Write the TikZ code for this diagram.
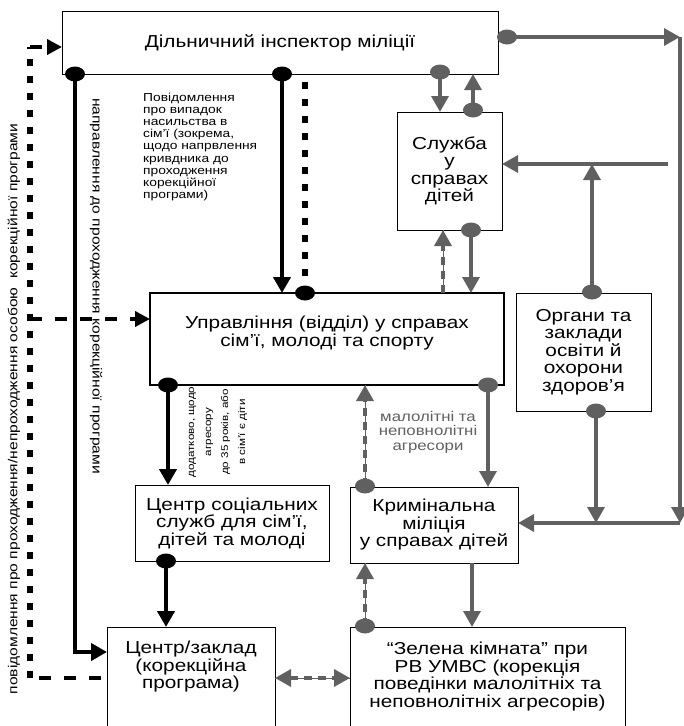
\documentclass[tikz,border=0pt]{standalone}
\usepackage{fontspec}
\setmainfont{Liberation Sans}[FakeStretch=1.2]
\usetikzlibrary{arrows.meta,positioning,shapes.geometric}
\definecolor{sirij}{HTML}{606060}
\tikzset{
    blok/.style={rectangle,draw,line width=0.7pt,inner sep=0pt,outer sep=0pt,anchor=north west},
    napys/.style={align=center,font=\fontsize{17.3}{17.5}\selectfont,inner sep=0pt},
    mitka/.style={align=left,font=\fontsize{11.5}{12.1}\selectfont,inner sep=0pt},
    chorna/.style={draw,line width=4pt,-{Triangle[width=17pt,length=16pt]}},
    sira/.style={draw=sirij,line width=3.5pt,-{Triangle[width=17pt,length=16pt]}},
    gshtrih/.style={sira,dash pattern=on 8pt off 6pt,preaction={draw=sirij,line width=0.8pt,solid,-}},
    bshtrihv/.style={draw,line width=6pt,dash pattern=on 7pt off 10pt},
    bshtrihh/.style={draw,line width=4.5pt,dash pattern=on 12pt off 13pt},
    bstrila/.style={-{Triangle[width=15pt,length=15pt]}},
    tochka/.style={ellipse,minimum width=20pt,minimum height=15pt,inner sep=0pt,fill},
    stochka/.style={tochka,fill=sirij},
}
\begin{document}
\begin{tikzpicture}[x=1pt,y=-1pt]
    \useasboundingbox (0,0) rectangle (684,726);

    \node [blok,napys,minimum width=436pt,minimum height=63pt] (insp) at (62,11) {Дільничний інспектор міліції};
    \node [blok,napys,minimum width=105pt,minimum height=118pt] (sluzhba) at (397,112) {Служба\\у\\справах\\дітей};
    \node [blok,line width=1.5pt,minimum width=354pt,minimum height=92pt] (uprav) at (150,293) {};
    \node [napys,below=23pt of uprav.north,anchor=north] (tuprav) {Управління (відділ) у справах\\сім’ї, молоді та спорту};
    \node [blok,napys,minimum width=135pt,minimum height=118pt] (organy) at (516,293) {Органи та\\заклади\\освіти й\\охорони\\здоров’я};
    \node [blok,napys,minimum width=194pt,minimum height=76pt] (csss) at (135,485) {Центр соціальних\\служб для сім’ї,\\дітей та молоді};
    \node [blok,napys,minimum width=168pt,minimum height=76pt] (krym) at (350,487) {Кримінальна\\міліція\\у справах дітей};
    \node [blok,minimum width=168pt,minimum height=110pt] (zaklad) at (107,627) {};
    \node [napys,below=14pt of zaklad.north,anchor=north] (tzaklad) {Центр/заклад\\(корекційна\\програма)};
    \node [blok,minimum width=275pt,minimum height=110pt] (zelena) at (350,627) {};
    \node [napys,below=15pt of zelena.north,anchor=north] (tzelena) {“Зелена кімната” при\\РВ УМВС (корекція\\поведінки малолітніх та\\неповнолітніх агресорів)};

    \node [tochka] (d1) at (75,74) {};
    \node [tochka] (d2) at (282,74) {};
    \node [tochka] (d3) at (305,293) {};
    \node [stochka] (d4) at (440,72) {};
    \node [stochka] (d5) at (473,110) {};
    \node [stochka] (d6) at (507,37) {};
    \node [stochka] (d7) at (471,230) {};
    \node [stochka] (d8) at (592,292) {};
    \node [tochka] (d9) at (168,385) {};
    \node [stochka] (d10) at (488,385) {};
    \node [stochka] (d11) at (365,486) {};
    \node [stochka] (d12) at (596,411) {};
    \node [tochka] (d13) at (166,561) {};
    \node [stochka] (d14) at (365,626) {};

    \coordinate (r1) at (680,37);
    \coordinate (r2) at (680,523);
    \coordinate (s1) at (668,164);
    \coordinate (s2) at (592,164);
    \coordinate (k0) at (101,678);
    \coordinate (k1) at (30,678);
    \coordinate (k2) at (30,47);
    \coordinate (k4) at (30,319);

    \path [chorna] (d1.center) |- ([yshift=-25pt]zaklad.north west);
    \path [chorna] (d2.center) -- (d2.center |- uprav.north);
    \path [bshtrihv] (d3.center) -- (d3.center |- insp.south);
    \path [sira] (d4.center) -- (d4.center |- sluzhba.north);
    \path [sira] (d5.center) -- (d5.center |- insp.south);
    \path [sira] (d6.center) -- (r1);
    \path [sira] (r1) -- (r2);
    \path [sira] (r2) -- (r2 -| krym.east);
    \path [sira] (s1) -- (s1 -| sluzhba.east);
    \path [sira] (d8.center) -- (s2);
    \path [sira] (d7.center) -- (d7.center |- uprav.north);
    \path [gshtrih] ([xshift=-6.5pt]sluzhba.south |- uprav.north) -- ([xshift=-6.5pt]sluzhba.south);
    \path [chorna] (d9.center) -- (d9.center |- csss.north);
    \path [sira] (d10.center) -- (d10.center |- krym.north);
    \path [gshtrih] (d11.center) -- (d11.center |- uprav.south);
    \path [sira] (d12.center) -- (d12.center |- r2);
    \path [chorna] (d13.center) -- (d13.center |- zaklad.north);
    \path [sira] ([xshift=38pt]krym.south) -- ([xshift=38pt]krym.south |- zelena.north);
    \path [gshtrih] (d14.center) -- (d14.center |- krym.south);
    \path [gshtrih,{Triangle[width=17pt,length=16pt]}-{Triangle[width=17pt,length=16pt]}] ([yshift=-51pt]zaklad.north east) -- ([yshift=-51pt]zelena.north west);

    \path [bshtrihh] (k0) -- (k1);
    \path [bshtrihv] (k1) -- (k2);
    \path [bshtrihh,bstrila] (k2) -- (k2 -| insp.west);
    \path [bshtrihh,bstrila] (k4) -- (k4 -| uprav.west);

    \node [mitka,anchor=north west] (lpovid) at (143,93) {Повідомлення\\про випадок\\насильства в\\сім’ї (зокрема,\\щодо напрвлення\\кривдника до\\проходження\\корекційної\\програми)};
    \node [rotate=90,font=\fontsize{13}{14}\selectfont,inner sep=0pt] (lzvit) at (14,409) {повідомлення про проходження/непроходження особою\ \ корекційної програми};
    \node [rotate=-90,font=\fontsize{13}{14}\selectfont,inner sep=0pt] (lnapr) at (96,286) {направлення до проходження корекційної програми};
    \node [rotate=90,align=center,font=\fontsize{9.7}{17}\selectfont,inner sep=0pt] (ldod) at (218,432) {додатково, щодо\\агресору\\до 35 років, або\\в сім’ї є діти};
    \node [text=sirij,align=center,font=\fontsize{14}{14.5}\selectfont,inner sep=0pt] (lmal) at (428,432) {малолітні та\\неповнолітні\\агресори};
\end{tikzpicture}
\end{document}
